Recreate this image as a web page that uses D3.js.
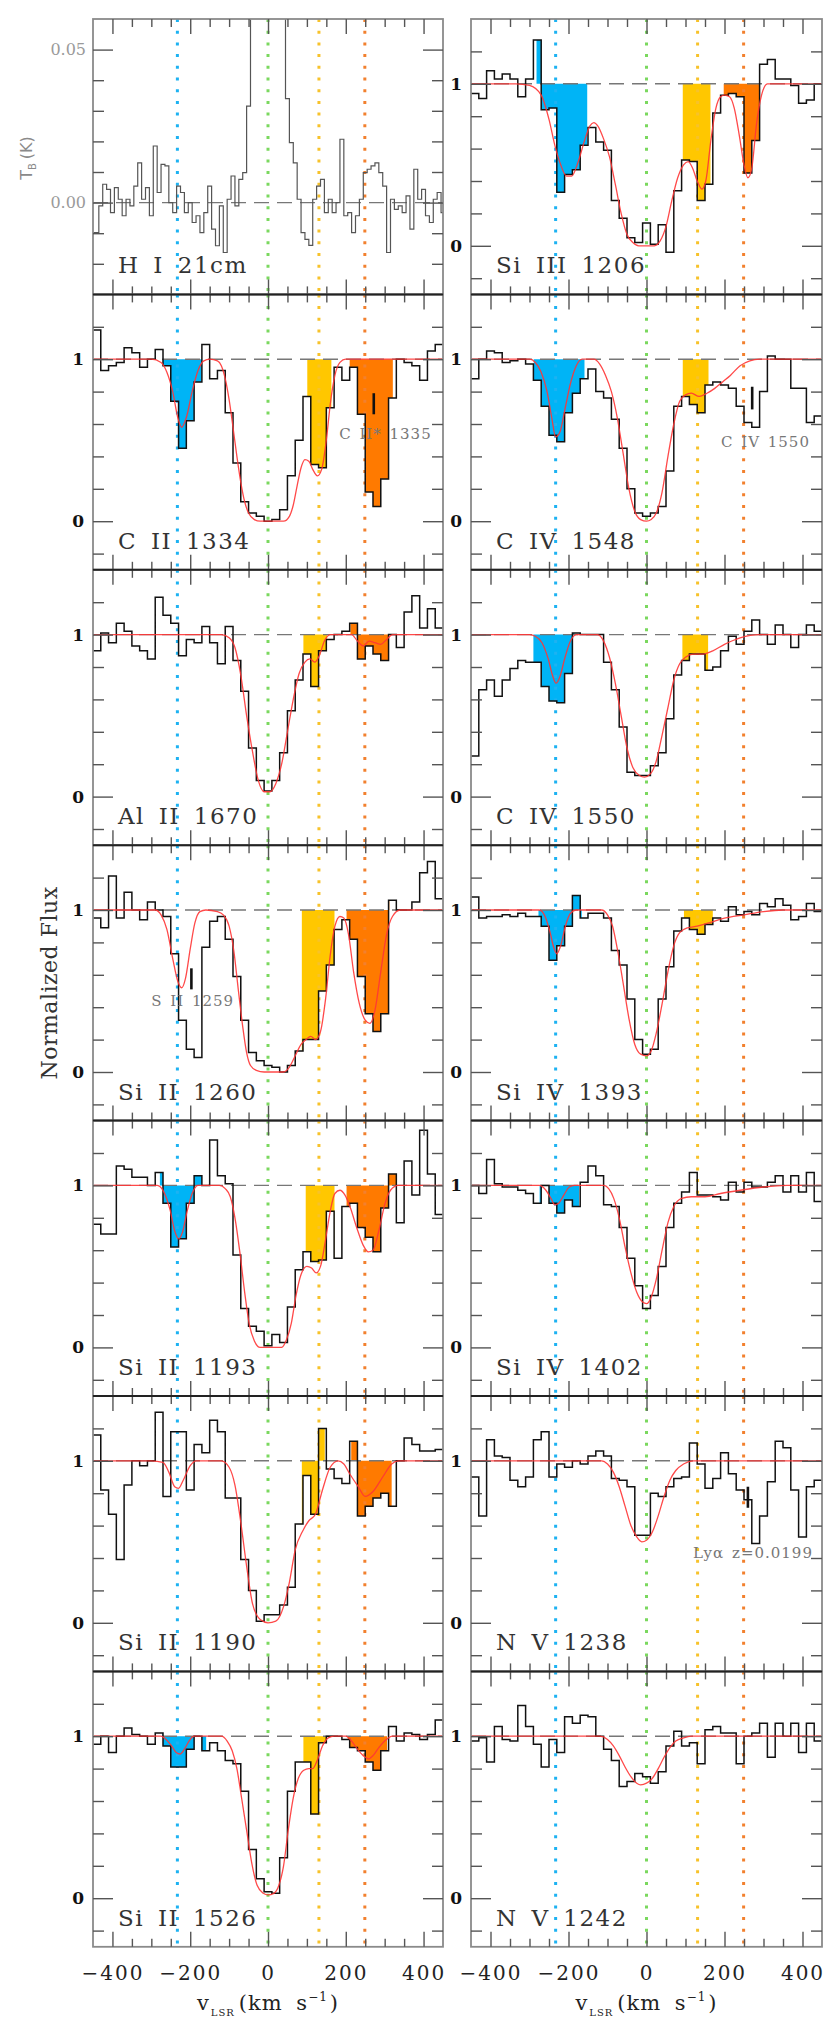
<!DOCTYPE html>
<html><head><meta charset="utf-8">
<script src="https://cdn.jsdelivr.net/npm/d3@7"></script>
<style>body{margin:0;background:#fff}svg{display:block}</style>
</head><body>
<svg id="c" width="832" height="2021"></svg>
<script>
// ---------------- DATA ----------------
const VMIN = -450, VMAX = 450, BIN = 20;
const binEdges = d3.range(VMIN, VMAX, BIN);          // 45 bins, left edges
const hiVel = d3.range(-450, 451, 10);
const fluxDomain = [-0.3, 1.4];
const hiDomain = [-0.03, 0.06];
const xMajorTicks = [-400, -200, 0, 200, 400];
const xMinorTicks = [-350, -300, -250, -150, -100, -50, 50, 100, 150, 250, 300, 350];
const fluxMajorTicks = [0, 1];
const fluxMinorTicks = [-0.2, 0.2, 0.4, 0.6, 0.8, 1.2];
const hiMajorTicks = [0, 0.05];
const hiMinorTicks = [-0.02, -0.01, 0.01, 0.02, 0.03, 0.04];
const markerVels = [-233, 0, 131, 249];

const leftLabels = ["H I 21cm", "C II 1334", "Al II 1670", "Si II 1260", "Si II 1193", "Si II 1190", "Si II 1526"];
const rightLabels = ["Si III 1206", "C IV 1548", "C IV 1550", "Si IV 1393", "Si IV 1402", "N V 1238", "N V 1242"];

const hiTemp = [-0.0098,-0.0098,-0.0011,0.006,0.0043,-0.0033,0.0049,0.0011,-0.0043,0.0011,
 -0.0011,0.0054,0.013,0.0011,0.0049,-0.0043,0.0185,0.0033,0.0125,0.012,
 0.0,-0.0033,0.0054,0.0033,-0.0033,0.0,-0.0065,-0.0043,-0.0098,-0.0033,
 0.0054,-0.0087,-0.0141,-0.0011,-0.0163,0.0011,0.0087,-0.0011,0.0076,0.0098,
 0.0315,0.09,0.2,0.3,0.35,0.35,0.3,0.22,0.14,0.08,
 0.034,0.0196,0.013,0.0011,-0.0098,-0.012,-0.014,0.0011,0.0054,0.0076,
 -0.0033,0.0011,-0.0033,0.0,0.0207,-0.0043,-0.0033,-0.0098,-0.0043,0.0011,
 0.0098,0.0109,0.012,0.013,0.0098,0.0054,-0.0163,0.0011,-0.0022,-0.0011,
 -0.0033,0.0022,-0.0087,0.0109,0.0011,0.0043,-0.0043,-0.0065,0.0011,0.0033,-0.0033];

const fluxSiIII1206 = [0.94,0.91,1.08,1.03,1.06,1.03,0.92,1.03,1.27,0.84,0.85,0.33,0.44,0.47,0.62,0.73,0.64,0.59,0.28,0.17,0.05,0.02,0.14,0.01,0.13,-0.04,0.34,0.53,0.52,0.28,0.38,0.82,0.93,0.94,0.92,0.45,0.65,1.12,1.15,1.03,1.03,0.99,0.88,0.9,1.0];
const fluxCII1334 = [1.18,0.93,0.96,0.98,1.07,1.04,0.95,1.0,1.06,0.96,0.74,0.45,0.62,0.86,1.09,0.88,0.93,0.67,0.36,0.12,0.05,0.03,0.0,0.01,0.07,0.28,0.5,0.77,0.35,0.33,0.7,0.95,0.87,0.95,0.66,0.18,0.09,0.26,0.76,1.0,0.98,0.96,0.87,1.05,1.09];
const fluxCIV1548 = [0.88,1.0,1.05,1.04,0.98,0.99,1.0,0.97,0.87,0.71,0.53,0.49,0.67,0.79,0.88,0.94,0.8,0.76,0.63,0.45,0.2,0.05,0.03,0.05,0.09,0.31,0.71,0.77,0.72,0.67,0.84,0.86,0.84,0.82,0.71,0.61,0.58,0.8,1.02,1.0,1.0,0.82,0.82,0.61,0.65];
const fluxAlII1670 = [0.9,1.01,0.95,1.07,1.02,0.93,0.9,0.85,1.23,1.12,1.07,0.87,0.97,0.95,1.05,0.95,0.82,1.05,0.84,0.65,0.3,0.1,0.035,0.1,0.27,0.53,0.72,0.88,0.68,0.9,0.97,1.0,1.02,1.07,0.85,0.93,0.88,0.84,1.0,0.92,1.14,1.24,1.04,1.16,1.04];
const fluxCIV1550 = [0.25,0.66,0.72,0.62,0.72,0.79,0.84,0.83,0.83,0.68,0.59,0.58,0.76,1.01,1.0,1.0,1.0,0.83,0.66,0.43,0.15,0.13,0.13,0.19,0.27,0.48,0.75,0.84,0.88,0.88,0.78,0.8,0.9,0.99,0.94,1.02,1.09,1.0,0.94,1.06,1.0,0.92,1.0,1.06,1.02];
const fluxSiII1260 = [0.95,0.89,1.21,0.95,1.11,1.0,0.94,1.05,1.0,0.96,0.73,0.32,0.14,0.09,0.77,0.93,0.96,0.82,0.59,0.32,0.12,0.07,0.04,0.03,0.0,0.04,0.13,0.2,0.2,0.5,0.66,0.88,0.94,0.82,0.59,0.36,0.25,0.36,1.06,1.0,1.0,1.05,1.23,1.3,1.07];
const fluxSiIV1393 = [1.08,0.95,0.96,0.96,0.97,0.96,0.98,0.96,0.96,0.9,0.69,0.78,0.9,1.09,0.95,0.98,0.98,0.95,0.75,0.66,0.45,0.2,0.11,0.14,0.45,0.65,0.87,0.95,0.88,0.85,0.91,0.95,0.93,1.02,0.97,0.99,0.97,1.04,1.02,1.07,1.03,0.94,0.96,1.04,0.99];
const fluxSiII1193 = [0.76,0.7,0.7,1.12,1.1,1.05,1.05,1.0,1.08,0.89,0.62,0.67,0.89,1.06,1.0,1.28,1.06,1.01,0.57,0.24,0.13,0.1,0.01,0.08,0.03,0.25,0.48,0.59,0.53,0.54,0.84,0.55,0.87,0.89,0.74,0.68,0.59,0.86,1.07,0.77,1.15,0.94,1.34,1.07,0.82];
const fluxSiIV1402 = [1.0,0.95,1.16,1.01,0.99,0.99,0.97,0.95,0.89,1.0,0.89,0.83,0.91,0.87,1.02,1.12,1.06,0.88,0.87,0.74,0.55,0.38,0.24,0.32,0.5,0.74,0.89,0.96,1.08,0.94,0.94,0.93,0.91,1.02,0.96,1.02,0.99,0.99,1.02,1.06,0.96,1.06,0.96,1.08,0.9];
const fluxSiII1190 = [1.16,0.82,0.67,0.39,0.85,1.0,0.97,1.0,1.3,0.78,1.18,1.18,0.82,1.1,1.05,1.25,1.18,0.77,0.77,0.39,0.2,0.01,0.05,0.05,0.11,0.22,0.61,0.91,0.67,1.2,0.95,0.89,0.86,1.12,0.66,0.72,0.77,0.8,0.72,1.0,1.14,1.1,1.06,1.06,1.07];
const fluxNV1238 = [0.9,0.66,1.13,1.03,1.02,0.88,0.84,0.9,1.13,1.18,0.9,0.98,0.96,1.0,0.98,1.03,1.06,1.03,0.89,0.88,0.84,0.54,0.54,0.8,0.78,0.84,0.89,0.9,1.11,0.98,0.83,0.89,1.05,0.92,0.82,0.76,0.49,0.66,0.87,1.12,1.08,0.82,0.53,0.84,0.88];
const fluxSiII1526 = [0.95,1.0,0.9,1.0,1.05,1.01,1.0,0.95,1.02,0.94,0.81,0.81,0.92,1.0,0.91,0.96,0.91,0.85,0.83,0.66,0.3,0.12,0.04,0.03,0.25,0.66,0.84,0.84,0.52,0.96,1.0,1.0,0.98,0.93,0.91,0.84,0.79,0.91,1.06,0.97,1.02,1.01,0.98,1.01,1.1];
const fluxNV1242 = [0.97,0.99,0.84,1.06,0.98,0.97,1.19,1.06,0.95,0.81,0.98,0.9,1.12,1.08,1.13,1.12,1.0,0.92,0.85,0.69,0.72,0.77,0.75,0.71,0.78,0.94,1.03,0.94,0.96,0.83,1.04,1.06,1.02,1.02,0.83,1.0,1.02,1.08,0.87,1.08,1.0,1.08,0.9,1.08,0.97];

const modelSiIII1206 = [[-450,1],[-335,1],[-300,0.99],[-270,0.93],[-250,0.78],[-235,0.62],[-220,0.5],[-205,0.43],[-192,0.43],[-175,0.52],[-160,0.64],[-145,0.74],[-135,0.76],[-125,0.74],[-110,0.66],[-95,0.55],[-80,0.38],[-65,0.2],[-50,0.07],[-35,0.02],[-20,0],[0,0],[20,0],[35,0.03],[50,0.12],[65,0.28],[80,0.42],[95,0.5],[107,0.52],[118,0.48],[130,0.4],[142,0.35],[152,0.4],[165,0.65],[178,0.85],[190,0.92],[200,0.93],[213,0.92],[225,0.85],[238,0.68],[250,0.5],[260,0.42],[270,0.48],[282,0.75],[295,0.93],[310,1],[450,1]];
const modelCII1334 = [[-450,1],[-300,1],[-275,0.98],[-260,0.92],[-245,0.8],[-232,0.64],[-222,0.58],[-210,0.64],[-195,0.8],[-180,0.93],[-165,0.99],[-150,1],[-130,0.99],[-120,0.96],[-110,0.88],[-100,0.75],[-90,0.58],[-80,0.4],[-70,0.24],[-60,0.12],[-50,0.05],[-35,0.01],[-20,0],[40,0],[55,0.03],[65,0.1],[75,0.22],[85,0.33],[95,0.38],[105,0.37],[115,0.32],[127,0.28],[138,0.32],[150,0.5],[160,0.72],[172,0.9],[185,0.98],[200,1],[450,1]];
const modelCIV1548 = [[-450,1],[-300,1],[-285,0.98],[-270,0.92],[-255,0.8],[-243,0.64],[-233,0.52],[-222,0.55],[-210,0.68],[-195,0.85],[-180,0.96],[-165,1],[-135,1],[-120,0.97],[-105,0.9],[-90,0.8],[-75,0.64],[-60,0.42],[-45,0.2],[-30,0.06],[-15,0.01],[0,0],[12,0.01],[25,0.05],[40,0.18],[55,0.4],[70,0.6],[85,0.74],[100,0.78],[115,0.79],[135,0.77],[155,0.79],[175,0.82],[195,0.86],[215,0.9],[240,0.96],[265,0.99],[290,1],[450,1]];
const modelAlII1670 = [[-450,1],[-120,1],[-100,0.98],[-85,0.92],[-70,0.75],[-55,0.5],[-40,0.28],[-25,0.1],[-10,0.03],[5,0.03],[20,0.08],[35,0.2],[50,0.4],[65,0.6],[80,0.76],[95,0.83],[108,0.85],[120,0.83],[132,0.87],[145,0.96],[160,1],[215,1],[230,0.96],[245,0.93],[260,0.96],[275,0.95],[290,0.94],[305,0.97],[320,1],[450,1]];
const modelCIV1550 = [[-450,1],[-300,1],[-285,0.99],[-268,0.95],[-252,0.85],[-240,0.74],[-232,0.7],[-222,0.74],[-210,0.85],[-195,0.96],[-180,1],[-125,1],[-110,0.96],[-95,0.86],[-80,0.7],[-65,0.5],[-50,0.3],[-35,0.18],[-18,0.13],[-5,0.12],[10,0.14],[25,0.22],[40,0.38],[55,0.55],[70,0.72],[85,0.82],[100,0.86],[120,0.88],[145,0.88],[170,0.9],[200,0.94],[240,0.98],[290,1],[450,1]];
const modelSiII1260 = [[-450,1],[-290,1],[-275,0.97],[-260,0.88],[-245,0.7],[-232,0.56],[-222,0.52],[-212,0.58],[-200,0.76],[-188,0.92],[-175,0.99],[-160,1],[-130,0.99],[-115,0.97],[-100,0.9],[-88,0.75],[-76,0.5],[-65,0.28],[-55,0.12],[-45,0.04],[-30,0.01],[-10,0],[40,0],[55,0.03],[70,0.1],[85,0.17],[98,0.2],[110,0.22],[122,0.2],[135,0.25],[148,0.45],[160,0.72],[172,0.9],[185,0.96],[195,0.95],[207,0.85],[220,0.62],[235,0.42],[250,0.32],[262,0.3],[275,0.38],[290,0.62],[305,0.85],[320,0.96],[340,1],[450,1]];
const modelSiIV1393 = [[-450,1],[-275,1],[-260,0.96],[-248,0.87],[-238,0.77],[-230,0.73],[-220,0.78],[-208,0.9],[-195,0.98],[-180,1],[-115,1],[-100,0.97],[-87,0.9],[-74,0.75],[-60,0.55],[-45,0.33],[-30,0.17],[-15,0.11],[0,0.1],[12,0.13],[25,0.24],[40,0.42],[55,0.62],[70,0.78],[85,0.86],[105,0.89],[130,0.9],[160,0.92],[200,0.95],[250,0.97],[300,0.99],[350,1],[450,1]];
const modelSiII1193 = [[-450,1],[-285,1],[-268,0.96],[-252,0.85],[-240,0.72],[-230,0.67],[-220,0.71],[-208,0.84],[-195,0.95],[-180,1],[-125,1],[-110,0.98],[-97,0.93],[-85,0.8],[-72,0.58],[-60,0.34],[-48,0.14],[-35,0.04],[-20,0],[35,0],[48,0.05],[60,0.15],[72,0.32],[85,0.45],[100,0.5],[112,0.49],[124,0.46],[135,0.5],[147,0.65],[160,0.84],[172,0.95],[185,0.97],[198,0.94],[212,0.86],[228,0.74],[245,0.63],[258,0.59],[270,0.6],[285,0.72],[300,0.88],[315,0.97],[335,1],[450,1]];
const modelSiIV1402 = [[-450,1],[-275,1],[-258,0.97],[-245,0.92],[-235,0.88],[-225,0.89],[-212,0.94],[-198,0.99],[-185,1],[-110,1],[-97,0.98],[-84,0.92],[-70,0.8],[-55,0.62],[-40,0.46],[-25,0.34],[-10,0.28],[0,0.27],[12,0.31],[25,0.42],[40,0.6],[55,0.77],[70,0.87],[90,0.92],[115,0.93],[150,0.93],[190,0.95],[240,0.97],[300,0.99],[360,1],[450,1]];
const modelSiII1190 = [[-450,1],[-300,1],[-270,0.99],[-255,0.93],[-240,0.84],[-230,0.83],[-218,0.88],[-200,0.97],[-185,1],[-120,1],[-100,0.96],[-85,0.85],[-70,0.62],[-55,0.35],[-40,0.12],[-20,0.02],[0,0],[20,0.01],[40,0.1],[55,0.25],[70,0.45],[90,0.57],[105,0.63],[122,0.67],[140,0.82],[160,0.96],[180,1],[195,0.98],[210,0.92],[232,0.84],[250,0.78],[270,0.81],[295,0.9],[318,0.98],[335,1],[450,1]];
const modelNV1238 = [[-450,1],[-115,1],[-100,0.98],[-85,0.93],[-70,0.84],[-55,0.72],[-40,0.6],[-25,0.53],[-12,0.5],[0,0.51],[15,0.56],[30,0.66],[45,0.78],[60,0.88],[75,0.94],[95,0.98],[120,1],[450,1]];
const modelSiII1526 = [[-450,1],[-275,1],[-262,0.98],[-248,0.94],[-236,0.9],[-226,0.89],[-215,0.92],[-203,0.97],[-190,1],[-120,1],[-105,0.97],[-92,0.91],[-80,0.8],[-68,0.62],[-55,0.42],[-42,0.22],[-28,0.08],[-12,0.03],[0,0.02],[15,0.03],[28,0.08],[40,0.2],[52,0.42],[65,0.62],[78,0.74],[92,0.79],[105,0.8],[115,0.8],[128,0.86],[140,0.94],[155,0.99],[170,1],[200,1],[215,0.97],[230,0.92],[245,0.88],[258,0.86],[270,0.88],[285,0.93],[300,0.97],[320,1],[450,1]];
const modelNV1242 = [[-450,1],[-120,1],[-100,0.98],[-85,0.94],[-70,0.88],[-55,0.81],[-40,0.75],[-25,0.71],[-15,0.7],[0,0.71],[15,0.74],[30,0.8],[45,0.87],[60,0.93],[75,0.97],[95,0.99],[115,1],[450,1]];

const fillsSiIII1206 = [["blue",-282,-152],["yellow",93,164],["orange",198,290]];
const fillsCII1334 = [["blue",-270,-171],["yellow",101,163],["orange",210,321]];
const fillsCIV1548 = [["blue",-289,-159],["yellow",93,159]];
const fillsAlII1670 = [["yellow",91,152],["orange",212,325]];
const fillsCIV1550 = [["blue",-290,-185],["yellow",92,158]];
const fillsSiII1260 = [["yellow",87,171],["orange",202,312]];
const fillsSiIV1393 = [["blue",-277,-166],["yellow",96,170]];
const fillsSiII1193 = [["blue",-278,-167],["yellow",97,171],["orange",202,331]];
const fillsSiIV1402 = [["blue",-274,-173]];
const fillsSiII1190 = [["yellow",87,146],["orange",214,318]];
const fillsSiII1526 = [["blue",-272,-159],["yellow",91,152],["orange",205,306]];
const fillsNone = [];

const annotations = [
  {panel: "C II 1334", text: "C II* 1335", v: 183, f: 0.505, markV: 272, markF: [0.66, 0.79]},
  {panel: "C IV 1548", text: "C IV 1550", v: 191, f: 0.456, markV: 271, markF: [0.69, 0.83]},
  {panel: "Si II 1260", text: "S II 1259", v: -300, f: 0.408, markV: -197, markF: [0.51, 0.64]},
  {panel: "N V 1238", text: "Lyα z=0.0199", v: 119, f: 0.398, markV: 260, markF: [0.71, 0.84]}
];

const spectra = {
  "Si III 1206": {flux: fluxSiIII1206, model: modelSiIII1206, fills: fillsSiIII1206},
  "C II 1334": {flux: fluxCII1334, model: modelCII1334, fills: fillsCII1334},
  "C IV 1548": {flux: fluxCIV1548, model: modelCIV1548, fills: fillsCIV1548},
  "Al II 1670": {flux: fluxAlII1670, model: modelAlII1670, fills: fillsAlII1670},
  "C IV 1550": {flux: fluxCIV1550, model: modelCIV1550, fills: fillsCIV1550},
  "Si II 1260": {flux: fluxSiII1260, model: modelSiII1260, fills: fillsSiII1260},
  "Si IV 1393": {flux: fluxSiIV1393, model: modelSiIV1393, fills: fillsSiIV1393},
  "Si II 1193": {flux: fluxSiII1193, model: modelSiII1193, fills: fillsSiII1193},
  "Si IV 1402": {flux: fluxSiIV1402, model: modelSiIV1402, fills: fillsSiIV1402},
  "Si II 1190": {flux: fluxSiII1190, model: modelSiII1190, fills: fillsSiII1190},
  "N V 1238": {flux: fluxNV1238, model: modelNV1238, fills: fillsNone},
  "Si II 1526": {flux: fluxSiII1526, model: modelSiII1526, fills: fillsSiII1526},
  "N V 1242": {flux: fluxNV1242, model: modelNV1242, fills: fillsNone}
};

// ---------------- STYLE / LAYOUT ----------------
const COLX = [[93, 443], [471, 822]];
const TOP = 19, ROWH = 275.4;
const SERIF = "'DejaVu Serif', 'Liberation Serif', serif";
const markerColors = ["#1db2f2", "#7ad85e", "#f7c22a", "#f2802e"];
const fillColors = {blue: "#00b4f6", yellow: "#ffc700", orange: "#ff7a00"};

const svg = d3.select("#c");
svg.append("rect").attr("width", 832).attr("height", 2021).attr("fill", "#fff");
const defs = svg.append("defs");

function fillPoints(flux, a, b) {
  const idx = v => Math.min(flux.length - 1, Math.max(0, Math.floor((v - VMIN) / BIN)));
  const pts = [[a, flux[idx(a)]]];
  binEdges.forEach((e, k) => { if (e > a && e < b) pts.push([e, flux[k]]); });
  pts.push([b, pts[pts.length - 1][1]]);
  return pts;
}

function styleTicks(sel) {
  sel.select(".domain").remove();
  sel.selectAll("line").attr("stroke", "#555").attr("stroke-width", 1.4);
}

function drawPanel(label, col, row) {
  const [px0, px1] = COLX[col];
  const py0 = TOP + row * ROWH, py1 = py0 + ROWH;
  const isHI = label === "H I 21cm";
  const x = d3.scaleLinear().domain([VMIN, VMAX]).range([px0, px1]);
  const y = d3.scaleLinear().domain(isHI ? hiDomain : fluxDomain).range([py1, py0]);
  const id = `clip-${col}-${row}`;
  defs.append("clipPath").attr("id", id).append("rect")
    .attr("x", px0).attr("y", py0).attr("width", px1 - px0).attr("height", py1 - py0);
  const g = svg.append("g");
  const inner = g.append("g").attr("clip-path", `url(#${id})`);
  const sp = spectra[label];

  if (!isHI) {
    const area = d3.area().curve(d3.curveStepAfter).x(d => x(d[0])).y0(y(1)).y1(d => y(d[1]));
    sp.fills.forEach(([c, a, b]) => {
      inner.append("path").datum(fillPoints(sp.flux, a, b)).attr("fill", fillColors[c]).attr("d", area);
    });
  }
  markerVels.forEach((v, i) => {
    inner.append("line").attr("x1", x(v)).attr("x2", x(v)).attr("y1", py0).attr("y2", py1)
      .attr("stroke", markerColors[i]).attr("stroke-width", 3).attr("stroke-dasharray", "3 8.7");
  });
  const cont = isHI ? 0 : 1;
  inner.append("line").attr("x1", px0).attr("x2", px1).attr("y1", y(cont)).attr("y2", y(cont))
    .attr("stroke", "#777").attr("stroke-width", 1.4).attr("stroke-dasharray", "15 8");

  if (isHI) {
    inner.append("path").datum(hiTemp.map((t, i) => [hiVel[i], t]))
      .attr("fill", "none").attr("stroke", "#555").attr("stroke-width", 1.2)
      .attr("d", d3.line().curve(d3.curveStep).x(d => x(d[0])).y(d => y(d[1])));
  } else {
    const pts = binEdges.map((e, k) => [e, sp.flux[k]]).concat([[VMAX, sp.flux[sp.flux.length - 1]]]);
    inner.append("path").datum(pts).attr("fill", "none").attr("stroke", "#111").attr("stroke-width", 1.5)
      .attr("d", d3.line().curve(d3.curveStepAfter).x(d => x(d[0])).y(d => y(d[1])));
    inner.append("path").datum(sp.model).attr("fill", "none").attr("stroke", "#ff3535")
      .attr("stroke-width", 1.3).attr("stroke-opacity", 0.9)
      .attr("d", d3.line().curve(d3.curveMonotoneX).x(d => x(d[0])).y(d => y(d[1])));
  }

  // frame
  g.append("rect").attr("x", px0).attr("y", py0).attr("width", px1 - px0).attr("height", py1 - py0)
    .attr("fill", "none").attr("stroke", "#8a8a8a").attr("stroke-width", 1.8);

  // ticks
  [[xMajorTicks, 15], [xMinorTicks, 8]].forEach(([vals, len]) => {
    g.append("g").attr("transform", `translate(0,${py1})`)
      .call(d3.axisBottom(x).tickValues(vals).tickSize(-len).tickFormat("")).call(styleTicks);
    g.append("g").attr("transform", `translate(0,${py0})`)
      .call(d3.axisTop(x).tickValues(vals).tickSize(-len).tickFormat("")).call(styleTicks);
  });
  const yMaj = isHI ? hiMajorTicks : fluxMajorTicks;
  const yMin = isHI ? hiMinorTicks : fluxMinorTicks;
  [[yMaj, 20], [yMin, 11]].forEach(([vals, len]) => {
    g.append("g").attr("transform", `translate(${px0},0)`)
      .call(d3.axisLeft(y).tickValues(vals).tickSize(-len).tickFormat("")).call(styleTicks);
    g.append("g").attr("transform", `translate(${px1},0)`)
      .call(d3.axisRight(y).tickValues(vals).tickSize(-len).tickFormat("")).call(styleTicks);
  });

  // y tick labels
  const yl = g.append("g").attr("transform", `translate(${px0},0)`)
    .call(d3.axisLeft(y).tickValues(yMaj).tickSize(0).tickPadding(isHI ? 7 : 9)
      .tickFormat(isHI ? d3.format(".2f") : d3.format("d")));
  yl.select(".domain").remove();
  yl.selectAll("text").attr("font-family", SERIF)
    .attr("font-size", isHI ? 16 : 17).attr("font-weight", isHI ? "normal" : "bold")
    .attr("fill", isHI ? "#9a9a9a" : "#111");

  // x tick labels on bottom row
  if (row === 6) {
    const xl = g.append("g").attr("transform", `translate(0,${py1})`)
      .call(d3.axisBottom(x).tickValues(xMajorTicks).tickSize(0).tickPadding(19));
    xl.select(".domain").remove();
    xl.selectAll("text").attr("font-family", SERIF).attr("font-size", 20)
      .attr("letter-spacing", 2).attr("fill", "#222");
    const t = g.append("text").attr("x", (px0 + px1) / 2).attr("y", 2010)
      .attr("text-anchor", "middle").attr("font-family", SERIF).attr("font-size", 21)
      .attr("fill", "#222").attr("letter-spacing", 1).attr("word-spacing", 6);
    t.append("tspan").text("v");
    t.append("tspan").attr("font-size", 10).attr("dy", 6).attr("dx", 1).text("LSR");
    t.append("tspan").attr("dy", -6).attr("dx", 4).text("(km s");
    t.append("tspan").attr("font-size", 12).attr("dy", -9).text("−1");
    t.append("tspan").attr("dy", 9).attr("dx", 2).text(")");
  }

  // panel label
  g.append("text").attr("x", px0 + 25).attr("y", py1 - 21)
    .attr("font-family", SERIF).attr("font-size", 23).attr("fill", "#333")
    .attr("letter-spacing", 1.5).attr("word-spacing", 5).text(label);

  // annotations
  annotations.filter(a => a.panel === label).forEach(a => {
    g.append("text").attr("x", x(a.v)).attr("y", y(a.f))
      .attr("font-family", SERIF).attr("font-size", 15).attr("fill", "#777")
      .attr("letter-spacing", 1).attr("word-spacing", 2).text(a.text);
    g.append("line").attr("x1", x(a.markV)).attr("x2", x(a.markV))
      .attr("y1", y(a.markF[0])).attr("y2", y(a.markF[1]))
      .attr("stroke", "#111").attr("stroke-width", 2.6);
  });
}

[leftLabels, rightLabels].forEach((labels, col) => labels.forEach((lab, row) => drawPanel(lab, col, row)));

// darker shared row boundaries
COLX.forEach(([px0, px1]) => {
  d3.range(1, 7).forEach(r => {
    svg.append("line").attr("x1", px0).attr("x2", px1)
      .attr("y1", TOP + r * ROWH).attr("y2", TOP + r * ROWH)
      .attr("stroke", "#222").attr("stroke-width", 2);
  });
});

// axis titles
svg.append("text").attr("transform", "translate(57,983) rotate(-90)")
  .attr("text-anchor", "middle").attr("font-family", SERIF).attr("font-size", 22)
  .attr("letter-spacing", 0.5).attr("fill", "#333").text("Normalized Flux");
const tb = svg.append("text").attr("transform", "translate(32,158) rotate(-90)")
  .attr("text-anchor", "middle").attr("font-family", "'DejaVu Sans', sans-serif")
  .attr("font-size", 16).attr("fill", "#8a8a8a");
tb.append("tspan").text("T");
tb.append("tspan").attr("font-size", 10).attr("dy", 4).text("B");
tb.append("tspan").attr("dy", -4).attr("dx", 4).text("(K)");
</script>
</body></html>
